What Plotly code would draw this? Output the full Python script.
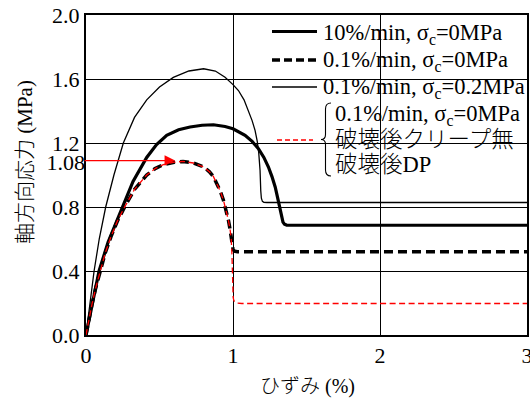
import plotly.graph_objects as go

# ---------------- data ----------------
# 10%/min, sigma_c = 0 MPa (thick solid)
strain_10 = [0, 0.02, 0.05, 0.089, 0.15, 0.247, 0.32, 0.413, 0.48, 0.549, 0.63, 0.708, 0.79,
             0.867, 0.946, 1.0, 1.082, 1.13, 1.173, 1.21, 1.241, 1.265, 1.287, 1.303, 1.316,
             1.325, 1.332, 1.34, 1.35, 1.365, 1.39, 3.0]
stress_10 = [0, 0.095, 0.225, 0.40, 0.58, 0.80, 0.96, 1.11, 1.19, 1.248, 1.283, 1.30, 1.311,
             1.314, 1.303, 1.289, 1.248, 1.21, 1.165, 1.11, 1.05, 0.99, 0.925, 0.86, 0.80,
             0.76, 0.728, 0.705, 0.692, 0.687, 0.686, 0.686]

# 0.1%/min, sigma_c = 0 MPa (thick dashed)
strain_01 = [0, 0.02, 0.04, 0.065, 0.095, 0.13, 0.17, 0.215, 0.263, 0.33, 0.413, 0.47, 0.526,
             0.60, 0.66, 0.73, 0.80, 0.84, 0.867, 0.89, 0.913, 0.935, 0.953, 0.969, 0.98,
             0.988, 0.994, 1.0, 1.01, 1.03, 3.0]
stress_01 = [0, 0.10, 0.19, 0.29, 0.40, 0.51, 0.615, 0.715, 0.80, 0.91, 1.00, 1.04, 1.065,
             1.08, 1.085, 1.075, 1.05, 1.02, 0.99, 0.95, 0.90, 0.842, 0.78, 0.717, 0.66,
             0.60, 0.555, 0.535, 0.524, 0.52, 0.52]

# 0.1%/min, sigma_c = 0.2 MPa (thin solid)
strain_02 = [0, 0.015, 0.03, 0.055, 0.09, 0.134, 0.19, 0.254, 0.33, 0.413, 0.50, 0.594, 0.70,
             0.80, 0.88, 0.946, 1.00, 1.037, 1.075, 1.105, 1.13, 1.15, 1.165, 1.175, 1.184,
             1.189, 1.193, 1.20, 1.21, 1.23, 3.0]
stress_02 = [0, 0.12, 0.23, 0.40, 0.60, 0.80, 1.00, 1.20, 1.36, 1.47, 1.55, 1.61, 1.65,
             1.664, 1.65, 1.611, 1.565, 1.528, 1.47, 1.404, 1.34, 1.279, 1.21, 1.14, 1.03,
             0.90, 0.855, 0.835, 0.829, 0.828, 0.828]

# 0.1%/min, sigma_c = 0 MPa, no creep after failure, DP after failure (thin red dashed)
strain_dp = [0, 0.02, 0.04, 0.065, 0.095, 0.13, 0.17, 0.215, 0.263, 0.33, 0.413, 0.47, 0.526,
             0.60, 0.66, 0.73, 0.80, 0.84, 0.867, 0.89, 0.913, 0.935, 0.953, 0.969, 0.98,
             0.988, 0.993, 0.996, 0.998, 1.001, 1.006, 1.015, 1.03, 1.06, 3.0]
stress_dp = [0, 0.10, 0.19, 0.29, 0.40, 0.51, 0.615, 0.715, 0.80, 0.91, 1.00, 1.04, 1.065,
             1.08, 1.085, 1.075, 1.05, 1.02, 0.99, 0.95, 0.90, 0.842, 0.78, 0.717, 0.66,
             0.60, 0.50, 0.38, 0.28, 0.235, 0.215, 0.205, 0.199, 0.197, 0.197]

x_ticks = [0, 1, 2, 3]
x_ticklabels = ["0", "1", "2", "3"]
y_ticks = [0.0, 0.4, 0.8, 1.2, 1.6, 2.0]
y_ticklabels = ["0.0", "0.4", "0.8", "1.2", "1.6", "2.0"]
peak_tick = [1.08]
peak_ticklabel = ["1.08"]

arrow_y = 1.09
arrow_x_start = -0.02
arrow_x_end = 0.606

legend_labels = [
    "10%/min, σ<sub>c</sub>=0MPa",
    "0.1%/min, σ<sub>c</sub>=0MPa",
    "0.1%/min, σ<sub>c</sub>=0.2MPa",
]
legend_group_lines = ["0.1%/min, σ<sub>c</sub>=0MPa", "破壊後クリープ無", "破壊後DP"]

x_title = "ひずみ (%)"
y_title = "軸方向応力 (MPa)"

# ---------------- layout geometry ----------------
W, H = 530, 399
ML, MR, MT, MB = 86, 3, 15, 64
PW = W - ML - MR
PH = H - MT - MB
FONT = "Liberation Serif, Noto Sans CJK JP, serif"
FS_TICK = 22
FS_LEG = 22.5
FS_TITLE = 20


def px(x):
    return (x - ML) / PW


def py(y):
    return (H - MB - y) / PH


fig = go.Figure()
fig.add_trace(go.Scatter(x=strain_02, y=stress_02, mode="lines",
                         line=dict(color="black", width=1.3), showlegend=False))
fig.add_trace(go.Scatter(x=strain_10, y=stress_10, mode="lines",
                         line=dict(color="black", width=3.2), showlegend=False))
fig.add_trace(go.Scatter(x=strain_01, y=stress_01, mode="lines",
                         line=dict(color="black", width=3.5, dash="9px,5px"), showlegend=False))
fig.add_trace(go.Scatter(x=strain_dp, y=stress_dp, mode="lines",
                         line=dict(color="red", width=1.3, dash="6px,3.5px"), showlegend=False))
# invisible trace to carry the extra 1.08 tick axis
fig.add_trace(go.Scatter(x=[None], y=[None], yaxis="y2", showlegend=False, hoverinfo="skip"))

shapes = []
# white cover under the legend (hides gridlines only)
shapes.append(dict(type="rect", xref="paper", yref="paper", x0=px(262), x1=1.0,
                   y0=py(181), y1=1.0, fillcolor="white", line=dict(width=0), layer="between"))

# legend samples
sample_x0, sample_x1 = px(272), px(317)
shapes.append(dict(type="line", xref="paper", yref="paper", x0=sample_x0, x1=sample_x1,
                   y0=py(31.5), y1=py(31.5), line=dict(color="black", width=3.2)))
shapes.append(dict(type="line", xref="paper", yref="paper", x0=sample_x0, x1=sample_x1,
                   y0=py(60), y1=py(60), line=dict(color="black", width=3.5, dash="8px,4px")))
shapes.append(dict(type="line", xref="paper", yref="paper", x0=sample_x0, x1=sample_x1,
                   y0=py(87), y1=py(87), line=dict(color="black", width=1.3)))
shapes.append(dict(type="line", xref="paper", yref="paper", x0=px(277), x1=px(313),
                   y0=py(140), y1=py(140), line=dict(color="red", width=1.3, dash="5px,3px")))

# curly brace
bx_tip, bx_mid, bx_end = 321, 325.5, 331
by_top, by_mid, by_bot = 103, 139.5, 176


def pt(x, y):
    return f"{px(x):.5f},{py(y):.5f}"


brace = (f"M{pt(bx_end, by_top)} Q{pt(bx_mid, by_top)} {pt(bx_mid, by_top + 6)} "
         f"L{pt(bx_mid, by_mid - 5)} Q{pt(bx_mid, by_mid)} {pt(bx_tip, by_mid)} "
         f"Q{pt(bx_mid, by_mid)} {pt(bx_mid, by_mid + 5)} "
         f"L{pt(bx_mid, by_bot - 6)} Q{pt(bx_mid, by_bot)} {pt(bx_end, by_bot)}")
shapes.append(dict(type="path", xref="paper", yref="paper", path=brace,
                   line=dict(color="black", width=1.1)))

annotations = []
for label, yy in zip(legend_labels, [34, 61, 88]):
    annotations.append(dict(text=label, xref="paper", yref="paper", x=px(321), y=py(yy),
                            xanchor="left", yanchor="middle", showarrow=False,
                            font=dict(family=FONT, size=FS_LEG, color="black", weight=300)))
for label, yy in zip(legend_group_lines, [115, 139.5, 164]):
    annotations.append(dict(text=label, xref="paper", yref="paper", x=px(333), y=py(yy),
                            xanchor="left", yanchor="middle", showarrow=False,
                            font=dict(family=FONT, size=FS_LEG, color="black", weight=300)))

# red arrow pointing at the peak
annotations.append(dict(x=arrow_x_end, y=arrow_y, ax=arrow_x_start, ay=arrow_y,
                        xref="x", yref="y", axref="x", ayref="y", text="",
                        showarrow=True, arrowhead=2, arrowsize=1.5, arrowwidth=1.4,
                        arrowcolor="red"))

# axis titles
annotations.append(dict(text=y_title, xref="paper", yref="paper", x=px(25), y=py(162),
                        xanchor="center", yanchor="middle", textangle=-90, showarrow=False,
                        font=dict(family=FONT, size=21, color="black", weight=300)))
annotations.append(dict(text=x_title, xref="paper", yref="paper", x=px(307), y=py(386),
                        xanchor="center", yanchor="middle", showarrow=False,
                        font=dict(family=FONT, size=FS_TITLE, color="black", weight=300)))

fig.update_layout(
    width=W, height=H,
    margin=dict(l=ML, r=MR, t=MT, b=MB, pad=0),
    paper_bgcolor="white", plot_bgcolor="white",
    font=dict(family=FONT, size=FS_TICK, color="black"),
    showlegend=False,
    shapes=shapes,
    annotations=annotations,
    xaxis=dict(range=[0, 3], tickvals=x_ticks, ticktext=x_ticklabels, automargin=False,
               showgrid=True, gridcolor="black", gridwidth=1, zeroline=False,
               showline=True, linecolor="black", linewidth=2, mirror="ticks",
               ticks="inside", ticklen=6, tickwidth=1, tickcolor="black",
               ticklabeloverflow="allow",
               tickfont=dict(family=FONT, size=FS_TICK)),
    yaxis=dict(range=[0, 2], tickvals=y_ticks, ticktext=y_ticklabels, automargin=False,
               showgrid=True, gridcolor="black", gridwidth=1, zeroline=False,
               showline=True, linecolor="black", linewidth=2, mirror="ticks",
               ticks="inside", ticklen=7, tickwidth=1, tickcolor="black",
               tickfont=dict(family=FONT, size=FS_TICK)),
    yaxis2=dict(range=[0, 2], overlaying="y", side="left", tickvals=peak_tick,
                ticktext=peak_ticklabel, showgrid=False, zeroline=False, showline=False,
                automargin=False,
                ticks="", tickfont=dict(family=FONT, size=FS_TICK)),
)

fig.write_html("out.html")
